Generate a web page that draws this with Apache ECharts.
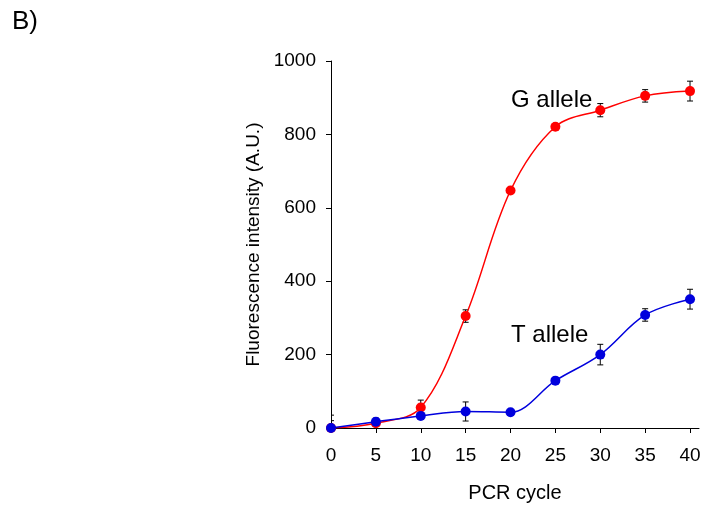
<!DOCTYPE html>
<html>
<head>
  <meta charset="utf-8">
  <title>PCR cycle</title>
  <script src="https://cdn.jsdelivr.net/npm/echarts@6/dist/echarts.min.js"></script>
  <style>
    html, body { margin: 0; padding: 0; background: #fff; }
    #chart { width: 705px; height: 511px; }
  </style>
</head>
<body>
<div id="chart"></div>
<script>
  // 数据
  var cycles = [0, 5, 10, 15, 20, 25, 30, 35, 40];
  var xTicks = [0, 5, 10, 15, 20, 25, 30, 35, 40];
  var gAllele = [0, 13, 56, 305, 647, 821, 866, 905, 918];
  var gError = [20, 8, 20, 17, 6, 8, 18, 17, 27];
  var tAllele = [0, 17, 33, 45, 43, 129, 200, 308, 351];
  var tError = [35, 10, 8, 26, 6, 6, 28, 17, 27];

  var font = '"Liberation Sans", Arial, Helvetica, sans-serif';

  function pairs(ys) {
    return cycles.map(function (c, i) { return [c, ys[i]]; });
  }
  function errData(ys, es) {
    return cycles.map(function (c, i) { return [c, ys[i] - es[i], ys[i] + es[i]]; });
  }

  // 误差线
  function renderErr(params, api) {
    var x = api.value(0);
    var lo = api.coord([x, api.value(1)]);
    var hi = api.coord([x, api.value(2)]);
    var cap = 3;
    var st = { stroke: '#000', lineWidth: 1 };
    return {
      type: 'group',
      children: [
        { type: 'line', shape: { x1: lo[0], y1: lo[1], x2: hi[0], y2: hi[1] }, style: st },
        { type: 'line', shape: { x1: lo[0] - cap, y1: lo[1], x2: lo[0] + cap, y2: lo[1] }, style: st },
        { type: 'line', shape: { x1: hi[0] - cap, y1: hi[1], x2: hi[0] + cap, y2: hi[1] }, style: st }
      ]
    };
  }

  var myChart = echarts.init(document.getElementById('chart'));
  var option = {
    animation: false,
    grid: { left: 331, top: 61, right: 6, bottom: 83 },
    xAxis: {
      type: 'value',
      min: 0,
      max: 41,
      interval: 5,
      name: 'PCR cycle',
      nameLocation: 'middle',
      nameGap: 55,
      nameTextStyle: { fontFamily: font, fontSize: 20, color: '#000' },
      axisLine: { onZero: false, lineStyle: { color: '#000', width: 1 } },
      axisTick: { show: true, inside: false, length: 5, customValues: xTicks, lineStyle: { color: '#000' } },
      axisLabel: { fontFamily: font, fontSize: 19, color: '#000', margin: 18, customValues: xTicks },
      splitLine: { show: false }
    },
    yAxis: {
      type: 'value',
      min: 0,
      max: 1000,
      interval: 200,
      name: 'Fluorescence intensity (A.U.)',
      nameLocation: 'middle',
      nameGap: 49,
      nameTextStyle: { fontFamily: font, fontSize: 19, color: '#000' },
      axisLine: { show: true, lineStyle: { color: '#000', width: 1 } },
      axisTick: { show: true, inside: false, length: 5, lineStyle: { color: '#000' } },
      axisLabel: {
        fontFamily: font, fontSize: 19, color: '#000', margin: 15,
        formatter: function (v) { return String(v); }
      },
      splitLine: { show: false }
    },
    graphic: [
      { type: 'text', left: 12, top: 9, style: { text: 'B)', font: '26px ' + font, fill: '#000' } },
      { type: 'text', left: 511, top: 88, style: { text: 'G allele', font: '24px ' + font, fill: '#000' } },
      { type: 'text', left: 511, top: 323, style: { text: 'T allele', font: '24px ' + font, fill: '#000' } }
    ],
    series: [
      {
        type: 'custom',
        renderItem: renderErr,
        data: errData(gAllele, gError),
        encode: { x: 0, y: [1, 2] },
        clip: true,
        z: 1,
        silent: true
      },
      {
        type: 'custom',
        renderItem: renderErr,
        data: errData(tAllele, tError),
        encode: { x: 0, y: [1, 2] },
        clip: true,
        z: 1,
        silent: true
      },
      {
        name: 'G allele',
        type: 'line',
        data: pairs(gAllele),
        smooth: 0.35,
        symbol: 'circle',
        symbolSize: 10,
        lineStyle: { color: '#ff0000', width: 1.5 },
        itemStyle: { color: '#ff0000' },
        z: 3
      },
      {
        name: 'T allele',
        type: 'line',
        data: pairs(tAllele),
        smooth: 0.35,
        symbol: 'circle',
        symbolSize: 10,
        lineStyle: { color: '#0000dd', width: 1.5 },
        itemStyle: { color: '#0000dd' },
        z: 4
      }
    ]
  };
  myChart.setOption(option);

  window.onresize = function () {
    myChart.resize();
  };
</script>
</body>
</html>
